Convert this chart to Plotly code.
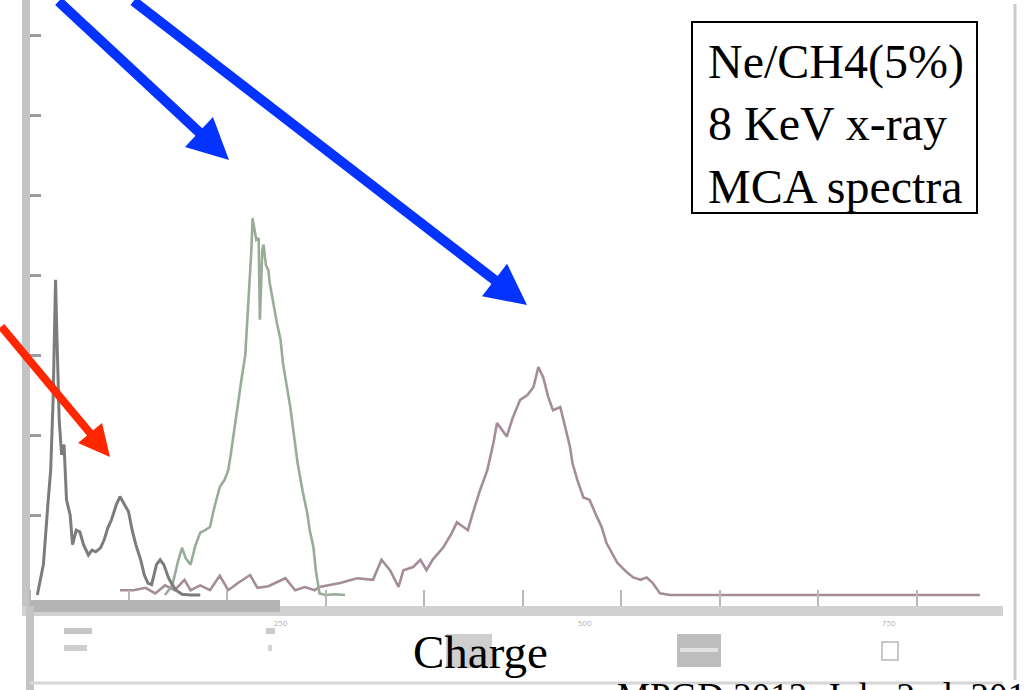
import plotly.graph_objects as go

# MCA spectra, Ne/CH4 (5%), 8 keV x-rays: channel vs counts
grey_ch = [50, 55, 59, 61, 63, 65, 66, 68, 70, 72, 74, 77, 79, 82, 85, 88, 92, 95, 98, 102,
           105, 108, 111, 115, 118, 121, 125, 128, 131, 135, 138, 141, 144, 148, 151, 154,
           158, 161, 164, 169, 176, 184]
grey_counts = [0, 38, 119, 156, 244, 394, 331, 219, 175, 188, 119, 100, 63, 81, 79, 63, 50,
               56, 54, 59, 69, 84, 94, 113, 123, 115, 104, 81, 63, 44, 25, 15, 13, 38, 44, 38,
               21, 13, 6, 1, 0, 0]

green_ch = [155, 161, 166, 169, 172, 176, 180, 184, 188, 192, 195, 198, 200, 204, 207, 209,
            213, 216, 218, 221, 222, 224, 226, 227, 228, 230, 232, 233, 235, 236, 238, 240,
            241, 244, 247, 250, 252, 255, 258, 261, 264, 268, 272, 274, 277, 279, 281, 282,
            287, 295, 303]
green_counts = [0, 12, 44, 59, 46, 38, 62, 78, 81, 85, 106, 122, 135, 144, 156, 175, 219,
                250, 271, 300, 325, 369, 431, 471, 462, 444, 446, 344, 431, 438, 412, 406,
                391, 365, 340, 319, 290, 262, 235, 200, 165, 131, 102, 81, 60, 31, 12, 2, 0,
                1, 0]

pink_ch = [118, 129, 139, 147, 155, 163, 171, 176, 184, 192, 200, 207, 215, 225, 231, 240,
           254, 262, 270, 278, 282, 299, 313, 326, 333, 340, 347, 351, 359, 365, 370, 375,
           384, 391, 395, 400, 404, 408, 414, 420, 425, 428, 432, 436, 441, 447, 453, 458,
           462, 466, 470, 474, 480, 484, 488, 490, 494, 499, 504, 510, 514, 518, 527, 535,
           540, 546, 551, 556, 562, 570, 595, 677, 760, 825]
pink_counts = [6, 6, 9, 2, 12, 6, 19, 6, 12, 6, 24, 6, 15, 25, 9, 11, 21, 6, 10, 6, 10, 15,
               21, 19, 44, 31, 10, 31, 35, 44, 31, 44, 60, 78, 91, 85, 81, 102, 131, 156, 190,
               215, 206, 198, 222, 244, 250, 260, 285, 272, 248, 231, 235, 210, 185, 165, 144,
               122, 119, 98, 85, 65, 40, 28, 22, 19, 22, 15, 2, 0, 0, 0, 0, 0]

count_ticks = [100, 200, 300, 400, 500, 600, 700]
channel_ticks = [250, 500, 750]
channel_labels = ["250", "500", "750"]

fig = go.Figure()
fig.add_trace(go.Scatter(x=pink_ch, y=pink_counts, mode="lines",
                         line=dict(color="#a48c99", width=2.6)))
fig.add_trace(go.Scatter(x=green_ch, y=green_counts, mode="lines",
                         line=dict(color="#98ac98", width=2.6)))
fig.add_trace(go.Scatter(x=grey_ch, y=grey_counts, mode="lines",
                         line=dict(color="#7c7c7c", width=3)))

L, R, T, B = 30, 23, 0, 84
W, H = 1026, 690
PW, PH = W - L - R, H - T - B


def px(x):
    return (x - L) / PW


def py(y):
    return (H - B - y) / PH


shapes = [
    # darker left part of the axis bar
    dict(type="rect", xref="paper", yref="paper", x0=px(30), x1=px(280), y0=py(612), y1=py(600),
         fillcolor="#b4b4b4", line_width=0, layer="above"),
    # frame lines of the spectrum window
    dict(type="line", xref="paper", yref="paper", x0=px(30), x1=px(30), y0=py(606), y1=py(690),
         line=dict(color="#c4c4c4", width=8)),
    dict(type="line", xref="paper", yref="paper", x0=px(30), x1=px(1003), y0=py(683), y1=py(683),
         line=dict(color="#d6d6d6", width=3)),
    dict(type="line", xref="paper", yref="paper", x0=px(1015), x1=px(1015), y0=py(4), y1=py(680),
         line=dict(color="#cccccc", width=3)),
    # control widgets below the axis
    dict(type="rect", xref="paper", yref="paper", x0=px(446), x1=px(492), y0=py(668), y1=py(634),
         fillcolor="#cfcfcf", line_width=0, layer="below"),
    dict(type="rect", xref="paper", yref="paper", x0=px(677), x1=px(721), y0=py(667), y1=py(634),
         fillcolor="#bdbdbd", line_width=0),
    dict(type="rect", xref="paper", yref="paper", x0=px(680), x1=px(718), y0=py(652), y1=py(648),
         fillcolor="#e2e2e2", line_width=0),
    dict(type="rect", xref="paper", yref="paper", x0=px(882), x1=px(898), y0=py(660), y1=py(642),
         fillcolor="rgba(0,0,0,0)", line=dict(color="#c8c8c8", width=2)),
    dict(type="rect", xref="paper", yref="paper", x0=px(64), x1=px(92), y0=py(634), y1=py(628),
         fillcolor="#c6c6c6", line_width=0),
    dict(type="rect", xref="paper", yref="paper", x0=px(64), x1=px(87), y0=py(651), y1=py(645),
         fillcolor="#cfcfcf", line_width=0),
    dict(type="rect", xref="paper", yref="paper", x0=px(266), x1=px(275), y0=py(634), y1=py(628),
         fillcolor="#cbcbcb", line_width=0),
    dict(type="rect", xref="paper", yref="paper", x0=px(268), x1=px(272), y0=py(651), y1=py(645),
         fillcolor="#d4d4d4", line_width=0),
    # legend box
    dict(type="rect", xref="paper", yref="paper", x0=px(692), x1=px(977), y0=py(213), y1=py(22),
         fillcolor="white", line=dict(color="black", width=2)),
]

BLUE = "#0433ff"
RED = "#ff2600"
annotations = [
    dict(xref="paper", yref="paper", x=px(706), y=py(33), xanchor="left", yanchor="top",
         align="left", showarrow=False,
         text="Ne/CH4(5%)<br>8 KeV x-ray<br>MCA spectra",
         font=dict(family="Liberation Serif", size=48, color="black")),
    dict(xref="paper", yref="paper", x=px(480), y=py(624), xanchor="center", yanchor="top",
         showarrow=False, text="Charge",
         font=dict(family="Liberation Serif", size=47, color="black")),
    dict(xref="paper", yref="paper", x=px(615), y=py(674), xanchor="left", yanchor="top",
         showarrow=False, text="MPGD 2013, July 2nd, 2013",
         font=dict(family="Liberation Serif", size=37, color="black")),
    # arrows pointing at the peaks
    dict(xref="paper", yref="paper", x=px(229), y=py(160), ax=-172, ay=-186, text="",
         showarrow=True, arrowhead=2, arrowsize=0.82, arrowwidth=10, arrowcolor=BLUE),
    dict(xref="paper", yref="paper", x=px(527), y=py(305), ax=-395, ay=-322, text="",
         showarrow=True, arrowhead=2, arrowsize=0.82, arrowwidth=10, arrowcolor=BLUE),
    dict(xref="paper", yref="paper", x=px(110), y=py(457), ax=-135, ay=-132, text="",
         showarrow=True, arrowhead=2, arrowsize=0.78, arrowwidth=8, arrowcolor=RED),
]

fig.update_layout(
    width=W, height=H,
    margin=dict(l=L, r=R, t=T, b=B, pad=0),
    paper_bgcolor="white", plot_bgcolor="white",
    showlegend=False,
    shapes=shapes,
    annotations=annotations,
    xaxis=dict(range=[44, 844], showgrid=False, zeroline=False,
               showline=True, linecolor="#d2d2d2", linewidth=10,
               tickmode="array", tickvals=channel_ticks, ticktext=channel_labels,
               ticks="", tickfont=dict(size=8, color="#b0b0b0"),
               minor=dict(ticks="inside", tickmode="linear", tick0=125, dtick=81,
                          ticklen=16, tickwidth=2, tickcolor="#b8b8b8", showgrid=False)),
    yaxis=dict(range=[-13.75, 743.75], showgrid=False, zeroline=False,
               showline=True, linecolor="#c4c4c4", linewidth=8,
               tickmode="array", tickvals=count_ticks, ticks="inside",
               ticklen=11, tickwidth=3, tickcolor="#9c9c9c", showticklabels=False),
)

fig.write_html("out.html")
